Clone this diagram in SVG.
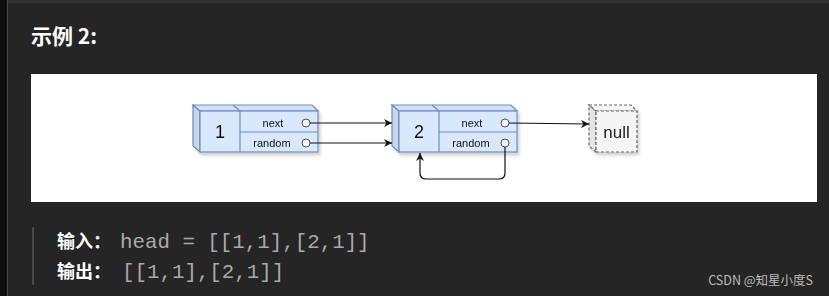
<svg xmlns="http://www.w3.org/2000/svg" width="829" height="296" viewBox="0 0 829 296">
<style>
.face{fill:#dae8fc;stroke:#6c8ebf;stroke-width:1.2}
.side{fill:#c9d6ea;stroke:#6c8ebf;stroke-width:1.2}
.top{fill:#d3e1f5;stroke:#6c8ebf;stroke-width:1.2}
.ln{stroke:#6c8ebf;stroke-width:1.2;fill:none}
.num{font-family:"Comic Sans MS","Liberation Sans",sans-serif;font-size:18px;fill:#111;text-anchor:middle}
.lbl{font-family:"Comic Sans MS","Liberation Sans",sans-serif;font-size:11px;fill:#111;text-anchor:middle}
.port{fill:#f5f5f5;stroke:#555;stroke-width:1}
.conn{stroke:#111;stroke-width:1.2;fill:none}
.nullf{fill:#f5f5f5;stroke:#666;stroke-width:1.2;stroke-dasharray:3 2}
.nulls{fill:#e4e4e4;stroke:#666;stroke-width:1.2;stroke-dasharray:3 2}
.cjk{font-family:"Noto Sans CJK SC","Noto Sans",sans-serif;font-weight:bold;fill:#ffffff}
.mono{font-family:"Liberation Mono","DejaVu Sans Mono",monospace;font-size:20.8px;fill:#a9a9a9}
</style>
<defs>
<marker id="ah" viewBox="0 0 10 10" refX="10" refY="5" markerWidth="8" markerHeight="8" markerUnits="userSpaceOnUse" orient="auto">
<path d="M0,0 L10,5 L0,10 L3,5 Z" fill="#111"/>
</marker>
<filter id="sh" x="-10%" y="-10%" width="130%" height="140%">
<feDropShadow dx="2" dy="3" stdDeviation="1.5" flood-color="#000" flood-opacity="0.18"/>
</filter>
</defs>
<rect x="0" y="0" width="829" height="296" fill="#252525"/>
<rect x="0" y="0" width="829" height="3" fill="#333333"/>
<rect x="0" y="0" width="7" height="296" fill="#0e0e0e"/>
<rect x="7" y="0" width="1" height="296" fill="#4a4a4a"/>
<text x="31" y="44" class="cjk" font-size="21">示例 2:</text>
<rect x="31" y="74" width="786" height="128" fill="#ffffff"/>
<g id="node1" filter="url(#sh)">
<polygon class="side" points="193,105 200,111 200,152 193,146"/>
<polygon class="top" points="193,105 312,105 318,111 200,111"/>
<rect class="face" x="200" y="111" width="118" height="41"/>
<line class="ln" x1="240" y1="111" x2="240" y2="152"/>
<line class="ln" x1="233" y1="105" x2="240" y2="111"/>
<line class="ln" x1="240" y1="132" x2="318" y2="132"/>
<text class="num" x="220" y="138">1</text>
<text class="lbl" x="273" y="127">next</text>
<text class="lbl" x="272" y="147">random</text>
<circle class="port" cx="306" cy="123" r="4"/>
<circle class="port" cx="306" cy="143" r="4"/>
</g>
<g id="node2" filter="url(#sh)">
<polygon class="side" points="392,105 399,111 399,152 392,146"/>
<polygon class="top" points="392,105 511,105 517,111 399,111"/>
<rect class="face" x="399" y="111" width="118" height="41"/>
<line class="ln" x1="439" y1="111" x2="439" y2="152"/>
<line class="ln" x1="432" y1="105" x2="439" y2="111"/>
<line class="ln" x1="439" y1="132" x2="517" y2="132"/>
<text class="num" x="419" y="138">2</text>
<text class="lbl" x="472" y="127">next</text>
<text class="lbl" x="471" y="147">random</text>
<circle class="port" cx="505" cy="123" r="4"/>
<circle class="port" cx="505" cy="143" r="4"/>
</g>
<g id="null" filter="url(#sh)">
<polygon class="nulls" points="589,105 596,111 596,152 589,146"/>
<polygon class="nullf" points="589,105 631,105 637,111 596,111"/>
<rect class="nullf" x="596" y="111" width="41" height="41"/>
<text x="616.5" y="138" font-family="'Comic Sans MS','Liberation Sans',sans-serif" font-size="17" fill="#222" text-anchor="middle">null</text>
</g>
<g id="connectors">
<line class="conn" x1="310" y1="123" x2="392" y2="123" marker-end="url(#ah)"/>
<line class="conn" x1="310" y1="143" x2="392" y2="143" marker-end="url(#ah)"/>
<line class="conn" x1="509" y1="123" x2="589" y2="124" marker-end="url(#ah)"/>
<path class="conn" d="M505,147 L505,173 Q505,179 499,179 L426,179 Q420,179 420,173 L420,153" marker-end="url(#ah)"/>
</g>
<rect x="32" y="227" width="2" height="58" fill="#4a4a4a"/>
<text x="57" y="248" class="cjk" font-size="18">输入：</text>
<text x="120" y="248" class="mono">head = [[1,1],[2,1]]</text>
<text x="57" y="278" class="cjk" font-size="18">输出：</text>
<text x="122" y="278" class="mono">[[1,1],[2,1]]</text>
<text x="813" y="285" text-anchor="end" font-family="'Noto Sans CJK SC','Noto Sans',sans-serif" font-size="12.5" fill="#bdbdbd">CSDN @知星小度S</text>
</svg>
